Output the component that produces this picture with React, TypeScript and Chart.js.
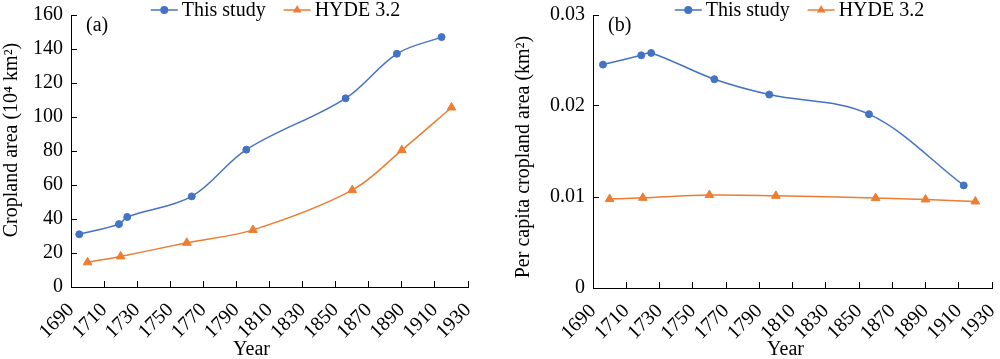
import React, { useEffect, useRef } from "react";
import { Chart, registerables } from "chart.js";

Chart.register(...registerables);

// ---------- Data ----------
const seriesNames = ["This study", "HYDE 3.2"];
const xTitle = "Year";
const xTickValues = [1690, 1710, 1730, 1750, 1770, 1790, 1810, 1830, 1850, 1870, 1890, 1910, 1930];

// Panel (a): cropland area (10^4 km2)
const studyYearsA = [1695, 1719, 1724, 1763, 1796, 1856, 1887, 1914];
const studyAreaA = [31, 37, 41.2, 53.3, 80.8, 111, 137.2, 147];
const hydeYearsA = [1700, 1720, 1760, 1800, 1860, 1890, 1920];
const hydeAreaA = [14.5, 18, 26, 33.6, 57, 80.5, 105.6];
const yTickValuesA = [0, 20, 40, 60, 80, 100, 120, 140, 160];

// Panel (b): per capita cropland area (km2)
const studyYearsB = [1696, 1719, 1725, 1763, 1796, 1856, 1913];
const studyPerCapB = [0.02455, 0.02557, 0.02583, 0.02294, 0.02126, 0.0191, 0.01127];
const hydeYearsB = [1700, 1720, 1760, 1800, 1860, 1890, 1920];
const hydePerCapB = [0.00977, 0.00991, 0.01021, 0.01013, 0.00988, 0.00973, 0.00951];
const yTickValuesB = [0, 0.01, 0.02, 0.03];
const yTickLabelsB = ["0", "0.01", "0.02", "0.03"];

// ---------- Styles ----------
const FONT = "'Liberation Serif', 'Times New Roman', serif";
const BLUE = "#4472C4";
const ORANGE = "#ED7D31";

const overlayPlugin = {
  id: "overlay",
  afterDraw(chart: any, _args: any, opts: any) {
    const ctx = chart.ctx as CanvasRenderingContext2D;
    const ca = chart.chartArea;
    ctx.save();
    ctx.font = `20px ${FONT}`;
    ctx.fillStyle = "#000";
    ctx.textBaseline = "middle";
    ctx.textAlign = "left";
    // panel label
    ctx.fillText(opts.panel, ca.left + opts.panelDx, opts.panelY);
    // x axis title
    ctx.textAlign = "center";
    ctx.fillText(opts.xTitle, (ca.left + ca.right) / 2 + opts.xTitleDx, opts.xTitleY);
    // y axis title
    ctx.save();
    ctx.translate(opts.yTitleX, opts.yTitleY);
    ctx.rotate(-Math.PI / 2);
    ctx.fillText(opts.yTitle, 0, 0);
    ctx.restore();
    ctx.textAlign = "left";
    // legend
    const lineW = 27;
    const gapText = 4;
    const gapItems = 18;
    const items = chart.data.datasets.map((ds: any) => ({
      label: ds.label,
      color: ds.borderColor,
      style: ds.pointStyle,
    }));
    const widths = items.map((it: any) => lineW + gapText + ctx.measureText(it.label).width);
    const total = widths.reduce((a: number, b: number) => a + b, 0) + gapItems * (items.length - 1);
    let x = (ca.left + ca.right) / 2 - total / 2 + opts.legendDx;
    const y = opts.legendY;
    items.forEach((it: any, i: number) => {
      ctx.strokeStyle = it.color;
      ctx.lineWidth = 1.5;
      ctx.beginPath();
      ctx.moveTo(x, y);
      ctx.lineTo(x + lineW, y);
      ctx.stroke();
      const cx = x + lineW / 2;
      ctx.fillStyle = it.color;
      ctx.beginPath();
      if (it.style === "triangle") {
        const r = 5;
        ctx.moveTo(cx, y - r);
        ctx.lineTo(cx + r * 0.866, y + r * 0.5);
        ctx.lineTo(cx - r * 0.866, y + r * 0.5);
        ctx.closePath();
      } else {
        ctx.arc(cx, y, 4, 0, Math.PI * 2);
      }
      ctx.fill();
      ctx.fillStyle = "#000";
      ctx.fillText(it.label, x + lineW + gapText, y + 1);
      x += widths[i] + gapItems;
    });
    ctx.restore();
  },
};

function makeConfig(p: {
  studyX: number[];
  studyY: number[];
  hydeX: number[];
  hydeY: number[];
  yTicks: number[];
  yLabels: string[];
  yMax: number;
  yTitle: string;
  yTitleX: number;
  yTitleY: number;
  yWidth: number;
  xHeight: number;
  xTitleDx: number;
  padRight: number;
  panel: string;
  legendDx: number;
}): any {
  const tickFont = { size: 20, family: FONT, lineHeight: 1 };
  return {
    type: "line",
    data: {
      datasets: [
        {
          label: seriesNames[0],
          data: p.studyX.map((x, i) => ({ x, y: p.studyY[i] })),
          borderColor: BLUE,
          backgroundColor: BLUE,
          pointBackgroundColor: BLUE,
          pointBorderColor: BLUE,
          pointStyle: "circle",
          pointRadius: 3.5,
          pointBorderWidth: 1,
          borderWidth: 1.5,
          tension: 0.35,
          fill: false,
        },
        {
          label: seriesNames[1],
          data: p.hydeX.map((x, i) => ({ x, y: p.hydeY[i] })),
          borderColor: ORANGE,
          backgroundColor: ORANGE,
          pointBackgroundColor: ORANGE,
          pointBorderColor: ORANGE,
          pointStyle: "triangle",
          pointRadius: 5,
          pointBorderWidth: 1,
          borderWidth: 1.5,
          tension: 0.35,
          fill: false,
        },
      ],
    },
    options: {
      responsive: false,
      animation: false,
      devicePixelRatio: 1,
      layout: { padding: { top: 15, right: p.padRight, bottom: 0, left: 0 } },
      plugins: {
        legend: { display: false },
        tooltip: { enabled: false },
        overlay: {
          panel: p.panel,
          panelDx: 15,
          panelY: 26,
          legendDx: p.legendDx,
          legendY: 10,
          xTitle,
          xTitleDx: p.xTitleDx,
          xTitleY: 350,
          yTitle: p.yTitle,
          yTitleX: p.yTitleX,
          yTitleY: p.yTitleY,
        },
      },
      scales: {
        x: {
          type: "linear",
          min: 1690,
          max: 1930,
          afterBuildTicks: (s: any) => {
            s.ticks = xTickValues.map((v) => ({ value: v }));
          },
          afterFit: (s: any) => {
            s.height = p.xHeight;
            s.paddingLeft = 0;
            s.paddingRight = 0;
          },
          ticks: {
            autoSkip: false,
            minRotation: 45,
            maxRotation: 45,
            padding: 16,
            color: "#000",
            font: { size: 20, family: FONT, lineHeight: 1.4 },
            callback: (v: any) => String(v),
          },
          grid: {
            drawOnChartArea: false,
            drawTicks: true,
            tickLength: -6,
            color: "#000",
            lineWidth: 1,
          },
          border: { display: true, color: "#000", width: 1 },
          title: { display: false },
        },
        y: {
          type: "linear",
          min: 0,
          max: p.yMax,
          afterBuildTicks: (s: any) => {
            s.ticks = p.yTicks.map((v) => ({ value: v }));
          },
          afterFit: (s: any) => {
            s.width = p.yWidth;
            s.paddingTop = 0;
            s.paddingBottom = 0;
          },
          ticks: {
            padding: 14,
            color: "#000",
            font: tickFont,
            callback: (_v: any, i: number) => p.yLabels[i],
          },
          grid: {
            drawOnChartArea: false,
            drawTicks: true,
            tickLength: -6,
            color: "#000",
            lineWidth: 1,
          },
          border: { display: true, color: "#000", width: 1 },
          title: { display: false },
        },
      },
    },
    plugins: [overlayPlugin],
  };
}

function ChartPanel({ config, left }: { config: any; left: number }) {
  const ref = useRef<HTMLCanvasElement | null>(null);
  useEffect(() => {
    if (!ref.current) return;
    const chart = new Chart(ref.current, config);
    return () => chart.destroy();
  }, [config]);
  return (
    <div style={{ position: "absolute", left, top: 0, width: 500, height: 359 }}>
      <canvas ref={ref} width={500} height={359} style={{ width: 500, height: 359, display: "block" }} />
    </div>
  );
}

const configA = makeConfig({
  studyX: studyYearsA,
  studyY: studyAreaA,
  hydeX: hydeYearsA,
  hydeY: hydeAreaA,
  yTicks: yTickValuesA,
  yLabels: yTickValuesA.map((v) => String(v)),
  yMax: 160,
  yTitle: "Cropland area (10\u2074 km\u00B2)",
  yTitleX: 12,
  yTitleY: 140,
  yWidth: 71,
  xHeight: 72,
  xTitleDx: -18,
  padRight: 32,
  panel: "(a)",
  legendDx: 6,
});

const configB = makeConfig({
  studyX: studyYearsB,
  studyY: studyPerCapB,
  hydeX: hydeYearsB,
  hydeY: hydePerCapB,
  yTicks: yTickValuesB,
  yLabels: yTickLabelsB,
  yMax: 0.03,
  yTitle: "Per capita cropland area (km\u00B2)",
  yTitleX: 24,
  yTitleY: 157,
  yWidth: 93,
  xHeight: 71,
  xTitleDx: -7,
  padRight: 8,
  panel: "(b)",
  legendDx: 7,
});

export default function App() {
  return (
    <div style={{ position: "absolute", left: 0, top: 0, width: 1000, height: 359, background: "#fff", overflow: "hidden" }}>
      <ChartPanel config={configA} left={0} />
      <ChartPanel config={configB} left={500} />
    </div>
  );
}
